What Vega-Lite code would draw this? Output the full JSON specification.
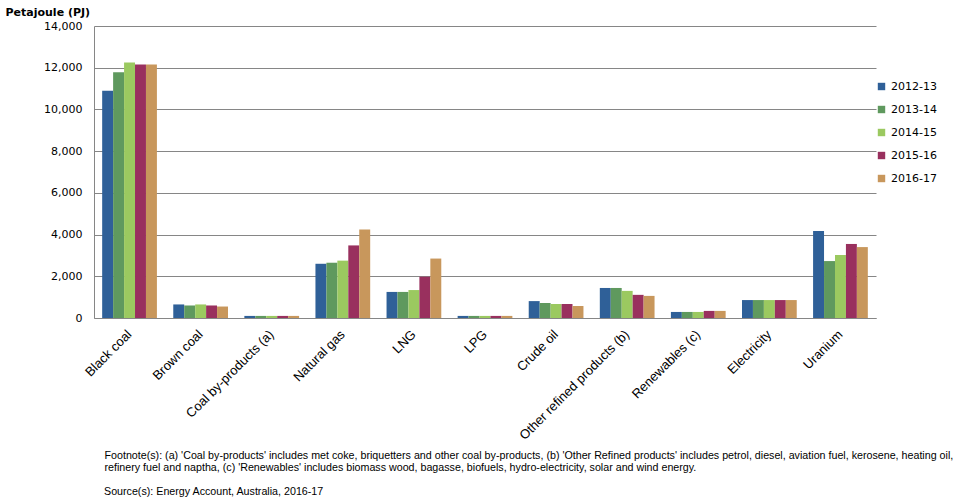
{
  "$schema": "https://vega.github.io/schema/vega-lite/v6.json",
  "width": 782,
  "height": 292,
  "autosize": "none",
  "padding": {"left": 94, "top": 26, "right": 80, "bottom": 182},
  "background": "white",
  "config": {
    "view": {"stroke": null},
    "axis": {"labelColor": "#000000", "titleColor": "#000000"}
  },
  "title": {
    "text": "Source(s): Energy Account, Australia, 2016-17",
    "orient": "bottom",
    "anchor": "start",
    "frame": "group",
    "dx": 10,
    "offset": 15,
    "font": "Liberation Sans",
    "fontSize": 10.7,
    "fontWeight": "normal",
    "color": "#000000"
  },
  "data": {
    "values": [
      {"product": "Black coal", "year": "2012-13", "pj": 10900},
      {"product": "Black coal", "year": "2013-14", "pj": 11780},
      {"product": "Black coal", "year": "2014-15", "pj": 12250},
      {"product": "Black coal", "year": "2015-16", "pj": 12150},
      {"product": "Black coal", "year": "2016-17", "pj": 12150},
      {"product": "Brown coal", "year": "2012-13", "pj": 650},
      {"product": "Brown coal", "year": "2013-14", "pj": 600},
      {"product": "Brown coal", "year": "2014-15", "pj": 650},
      {"product": "Brown coal", "year": "2015-16", "pj": 600},
      {"product": "Brown coal", "year": "2016-17", "pj": 550},
      {"product": "Coal by-products (a)", "year": "2012-13", "pj": 100},
      {"product": "Coal by-products (a)", "year": "2013-14", "pj": 100},
      {"product": "Coal by-products (a)", "year": "2014-15", "pj": 100},
      {"product": "Coal by-products (a)", "year": "2015-16", "pj": 100},
      {"product": "Coal by-products (a)", "year": "2016-17", "pj": 100},
      {"product": "Natural gas", "year": "2012-13", "pj": 2600},
      {"product": "Natural gas", "year": "2013-14", "pj": 2650},
      {"product": "Natural gas", "year": "2014-15", "pj": 2750},
      {"product": "Natural gas", "year": "2015-16", "pj": 3480},
      {"product": "Natural gas", "year": "2016-17", "pj": 4240},
      {"product": "LNG", "year": "2012-13", "pj": 1250},
      {"product": "LNG", "year": "2013-14", "pj": 1250},
      {"product": "LNG", "year": "2014-15", "pj": 1340},
      {"product": "LNG", "year": "2015-16", "pj": 1980},
      {"product": "LNG", "year": "2016-17", "pj": 2850},
      {"product": "LPG", "year": "2012-13", "pj": 100},
      {"product": "LPG", "year": "2013-14", "pj": 100},
      {"product": "LPG", "year": "2014-15", "pj": 100},
      {"product": "LPG", "year": "2015-16", "pj": 100},
      {"product": "LPG", "year": "2016-17", "pj": 100},
      {"product": "Crude oil", "year": "2012-13", "pj": 810},
      {"product": "Crude oil", "year": "2013-14", "pj": 720},
      {"product": "Crude oil", "year": "2014-15", "pj": 670},
      {"product": "Crude oil", "year": "2015-16", "pj": 670},
      {"product": "Crude oil", "year": "2016-17", "pj": 575},
      {"product": "Other refined products (b)", "year": "2012-13", "pj": 1440},
      {"product": "Other refined products (b)", "year": "2013-14", "pj": 1440},
      {"product": "Other refined products (b)", "year": "2014-15", "pj": 1300},
      {"product": "Other refined products (b)", "year": "2015-16", "pj": 1110},
      {"product": "Other refined products (b)", "year": "2016-17", "pj": 1060},
      {"product": "Renewables (c)", "year": "2012-13", "pj": 290},
      {"product": "Renewables (c)", "year": "2013-14", "pj": 290},
      {"product": "Renewables (c)", "year": "2014-15", "pj": 290},
      {"product": "Renewables (c)", "year": "2015-16", "pj": 340},
      {"product": "Renewables (c)", "year": "2016-17", "pj": 340},
      {"product": "Electricity", "year": "2012-13", "pj": 860},
      {"product": "Electricity", "year": "2013-14", "pj": 860},
      {"product": "Electricity", "year": "2014-15", "pj": 860},
      {"product": "Electricity", "year": "2015-16", "pj": 860},
      {"product": "Electricity", "year": "2016-17", "pj": 860},
      {"product": "Uranium", "year": "2012-13", "pj": 4170},
      {"product": "Uranium", "year": "2013-14", "pj": 2730},
      {"product": "Uranium", "year": "2014-15", "pj": 3020},
      {"product": "Uranium", "year": "2015-16", "pj": 3550},
      {"product": "Uranium", "year": "2016-17", "pj": 3400}
    ]
  },
  "mark": {"type": "bar"},
  "encoding": {
    "x": {
      "field": "product",
      "type": "nominal",
      "sort": null,
      "scale": {"paddingInner": 0.23, "paddingOuter": 0.115},
      "axis": {
        "labelAngle": -45,
        "labelAlign": "right",
        "labelBaseline": "middle",
        "labelFont": "Liberation Sans",
        "labelFontSize": 13,
        "labelPadding": 14,
        "ticks": false,
        "domainColor": "#868686",
        "title": [
          "Footnote(s): (a) 'Coal by-products' includes met coke, briquetters and other coal by-products, (b) 'Other Refined products' includes petrol, diesel, aviation  fuel, kerosene, heating oil,",
          "refinery fuel and naptha, (c) 'Renewables' includes biomass wood, bagasse, biofuels,  hydro-electricity, solar and wind energy."
        ],
        "titleFont": "Liberation Sans",
        "titleFontSize": 10.7,
        "titleFontWeight": "normal",
        "titleAlign": "left",
        "titleBaseline": "top",
        "titleAnchor": "start",
        "titleLineHeight": 12,
        "titleX": 10,
        "titleY": 132
      }
    },
    "xOffset": {"field": "year", "type": "nominal", "sort": null},
    "y": {
      "field": "pj",
      "type": "quantitative",
      "scale": {"domain": [0, 14000], "nice": false},
      "axis": {
        "values": [0, 2000, 4000, 6000, 8000, 10000, 12000, 14000],
        "format": ",d",
        "labelFont": "DejaVu Sans",
        "labelFontSize": 11,
        "labelPadding": 12,
        "ticks": false,
        "domainColor": "#868686",
        "gridColor": "#868686",
        "gridOpacity": 1,
        "title": "Petajoule (PJ)",
        "titleFont": "DejaVu Sans",
        "titleFontSize": 11,
        "titleFontWeight": "bold",
        "titleAngle": 0,
        "titleAlign": "left",
        "titleBaseline": "middle",
        "titleX": -89,
        "titleY": -14
      }
    },
    "color": {
      "field": "year",
      "type": "nominal",
      "sort": null,
      "scale": {
        "domain": ["2012-13", "2013-14", "2014-15", "2015-16", "2016-17"],
        "range": ["#2f6098", "#5f995e", "#9bc960", "#99305e", "#c8975c"]
      },
      "legend": {
        "title": null,
        "orient": "none",
        "legendX": 782,
        "legendY": 55,
        "symbolType": "square",
        "symbolSize": 55,
        "symbolStrokeWidth": 0,
        "labelFont": "DejaVu Sans",
        "labelFontSize": 11,
        "labelColor": "#000000",
        "labelOffset": 4,
        "rowPadding": 11
      }
    }
  }
}
